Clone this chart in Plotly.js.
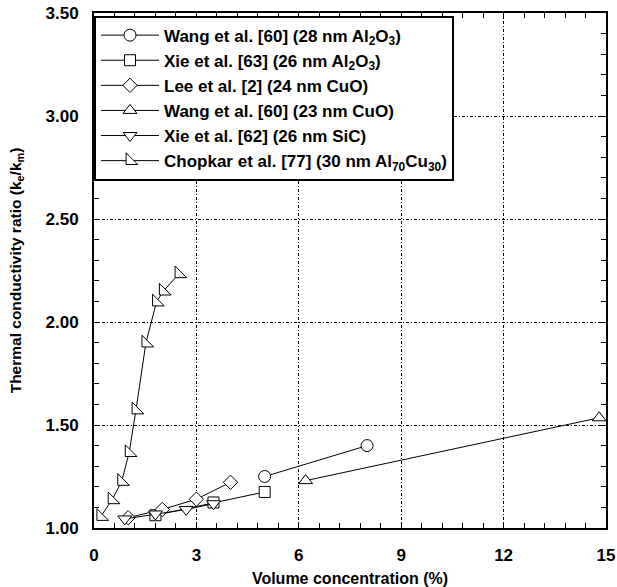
<!DOCTYPE html>
<html>
<head>
<meta charset="utf-8">
<script src="https://cdn.plot.ly/plotly-3.0.1.min.js"></script>
<style>html,body{margin:0;padding:0;background:#fff;}#chart{width:617px;height:587px;}</style>
</head>
<body>
<div id="chart"></div>
<script>
// Wang et al. [60] (28 nm Al2O3)
const wangAlX = [5.0, 8.0];
const wangAlY = [1.25, 1.40];
// Xie et al. [63] (26 nm Al2O3)
const xieAlX = [1.8, 3.5, 5.0];
const xieAlY = [1.062, 1.124, 1.175];
// Lee et al. [2] (24 nm CuO)
const leeX = [1.0, 2.0, 3.0, 4.0];
const leeY = [1.05, 1.09, 1.14, 1.222];
// Wang et al. [60] (23 nm CuO)
const wangCuX = [6.2, 14.8];
const wangCuY = [1.23, 1.535];
// Xie et al. [62] (26 nm SiC)
const xieSiCX = [0.9, 1.8, 2.7, 3.5];
const xieSiCY = [1.044, 1.068, 1.09, 1.118];
// Chopkar et al. [77] (30 nm Al70Cu30)
const chopX = [0.2, 0.53, 0.81, 1.03, 1.23, 1.52, 1.83, 2.03, 2.49];
const chopY = [1.056, 1.137, 1.226, 1.366, 1.573, 1.898, 2.097, 2.15, 2.234];

const names = [
  "Wang et al. [60] (28 nm Al<sub>2</sub>O<sub>3</sub>)",
  "Xie et al. [63] (26 nm Al<sub>2</sub>O<sub>3</sub>)",
  "Lee et al. [2] (24 nm CuO)",
  "Wang et al. [60] (23 nm CuO)",
  "Xie et al. [62] (26 nm SiC)",
  "Chopkar et al. [77] (30 nm Al<sub>70</sub>Cu<sub>30</sub>)"
];
const xTicks = [0, 3, 6, 9, 12, 15];
const yTicks = [1.0, 1.5, 2.0, 2.5, 3.0, 3.5];

function tr(x, y, name, symbol, size) {
  return {
    x: x, y: y, name: name, type: 'scatter', mode: 'lines+markers',
    line: {color: '#000', width: 1},
    marker: {symbol: symbol, size: size, color: '#fff', line: {color: '#000', width: 1}}
  };
}
const data = [
  tr(wangAlX, wangAlY, names[0], 'circle', 12),
  tr(xieAlX, xieAlY, names[1], 'square', 11),
  tr(leeX, leeY, names[2], 'diamond', 11),
  tr(wangCuX, wangCuY, names[3], 'triangle-up', 12),
  tr(xieSiCX, xieSiCY, names[4], 'triangle-down', 12),
  tr(chopX, chopY, names[5], 'triangle-sw', 13)
];

const fontFam = 'Liberation Sans, Arial, sans-serif';
const grid = {gridcolor: '#000', gridwidth: 1, griddash: '3px,2px,1px,2px'};
const layout = {
  width: 617, height: 587,
  margin: {l: 94, r: 11, t: 13, b: 59},
  paper_bgcolor: '#fff', plot_bgcolor: '#fff',
  font: {family: fontFam, color: '#000', size: 16, weight: 'bold'},
  showlegend: true,
  legend: {
    x: 0, y: 0.995, xanchor: 'left', yanchor: 'top',
    bgcolor: '#fff', bordercolor: '#000', borderwidth: 2,
    font: {family: fontFam, size: 17, color: '#000', weight: 'bold'},
    tracegroupgap: 0, itemwidth: 58
  },
  xaxis: Object.assign({
    range: [0, 15], tickvals: xTicks, ticktext: xTicks.map(String),
    showgrid: true, zeroline: false,
    showline: true, linecolor: '#000', linewidth: 2, mirror: 'allticks',
    ticks: 'inside', ticklen: 6, tickcolor: '#000', tickwidth: 1,
    minor: {dtick: 0.6, ticks: 'inside', ticklen: 5, tickcolor: '#000', showgrid: false},
    tickfont: {family: fontFam, size: 17, weight: 'bold'},
    ticklabelstandoff: 11,
    title: {text: 'Volume concentration (%)', font: {family: fontFam, size: 16, weight: 'bold'}, standoff: 8}
  }, grid),
  yaxis: Object.assign({
    range: [1, 3.5], tickvals: yTicks, ticktext: yTicks.map(v => v.toFixed(2)),
    showgrid: true, zeroline: false,
    showline: true, linecolor: '#000', linewidth: 2, mirror: 'allticks',
    ticks: 'inside', ticklen: 6, tickcolor: '#000', tickwidth: 1,
    minor: {dtick: 0.1, ticks: 'inside', ticklen: 5, tickcolor: '#000', showgrid: false},
    tickfont: {family: fontFam, size: 17, weight: 'bold'},
    ticklabelstandoff: 10,
    title: {text: 'Thermal conductivity ratio (k<sub>e</sub>/k<sub>m</sub>)', font: {family: fontFam, size: 15.5, weight: 'bold'}, standoff: 20}
  }, grid)
};
Plotly.newPlot('chart', data, layout, {displayModeBar: false, staticPlot: true});
</script>
</body>
</html>
